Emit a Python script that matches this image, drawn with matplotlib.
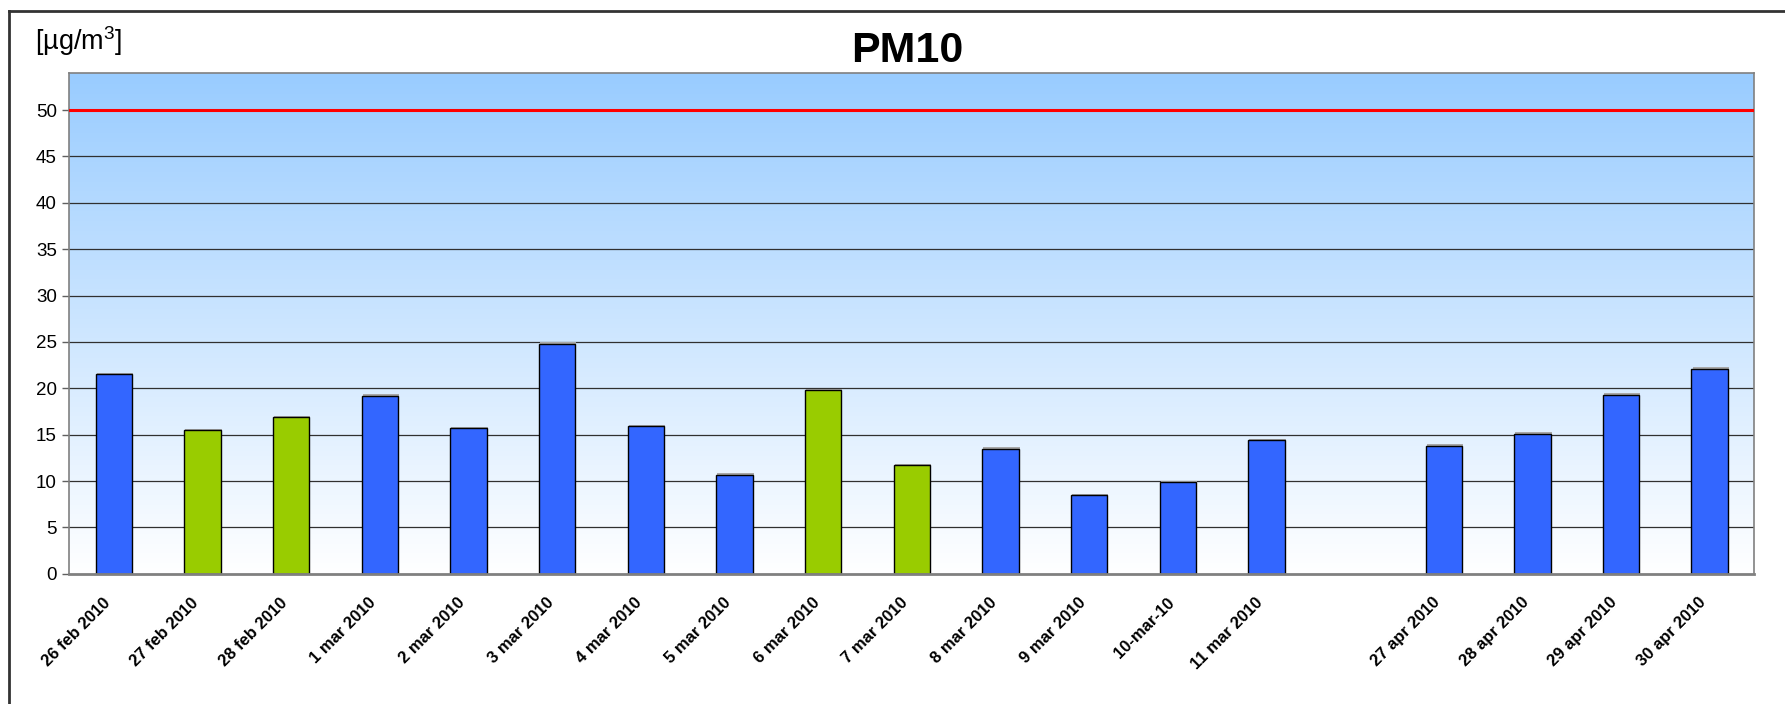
import numpy as np
import matplotlib
matplotlib.use("Agg")
import matplotlib.pyplot as plt
import matplotlib.transforms as mtrans
from matplotlib.lines import Line2D

plt.rcParams['font.family'] = ['Liberation Sans', 'DejaVu Sans']
plt.rcParams['mathtext.default'] = 'regular'

# data (empty slot = gap between 11 mar and 27 apr)
dates = ['26 feb 2010', '27 feb 2010', '28 feb 2010', '1 mar 2010', '2 mar 2010',
         '3 mar 2010', '4 mar 2010', '5 mar 2010', '6 mar 2010', '7 mar 2010',
         '8 mar 2010', '9 mar 2010', '10-mar-10', '11 mar 2010', '',
         '27 apr 2010', '28 apr 2010', '29 apr 2010', '30 apr 2010']
pm10 = [21.5, 15.5, 16.9, 19.2, 15.7, 24.8, 15.9, 10.7, 19.8, 11.7,
        13.5, 8.5, 9.9, 14.4, np.nan, 13.8, 15.1, 19.3, 22.1]
weekend = [False, True, True, False, False, False, False, False, True, True,
           False, False, False, False, False, False, False, False, False]
limit = 50

BLUE = '#3366FF'
GREEN = '#99CC00'

fig = plt.figure(figsize=(17.85, 7.04), dpi=100)
ax = fig.add_axes([69.4/1785, 1-573.8/704, (1754-69.4)/1785, (573.8-72.9)/704])

# background gradient, light blue at top fading to white
grad = np.linspace(0, 1, 256).reshape(-1, 1)
top = np.array([153, 204, 255]) / 255
bot = np.array([255, 255, 255]) / 255
img = bot + (top - bot) * grad[..., None]
ax.imshow(img, extent=[0, 1, 0, 1], transform=ax.transAxes, aspect='auto',
          origin='lower', zorder=0)

x = np.arange(len(dates))
vals = np.array(pm10, dtype=float)
ok = ~np.isnan(vals)
cols = [GREEN if w else BLUE for w in weekend]

# little shadow on top of each bar
ax.bar(x[ok] + 0.012, vals[ok] + 0.15, width=0.41, color='#A8A8A8', zorder=2, linewidth=0)
ax.bar(x[ok], vals[ok], width=0.41, color=[c for c, k in zip(cols, ok) if k],
       edgecolor='black', linewidth=1.0, zorder=3)

for v in range(5, 50, 5):
    ax.axhline(v, color='#303030', linewidth=0.9, zorder=1)
ax.axhline(limit, color='#FF0000', linewidth=2.2, zorder=4)

ax.set_xlim(-0.5, len(dates) - 0.5)
ax.set_ylim(0, 54)
ax.set_yticks(np.arange(0, 51, 5))
ax.set_xticks(x)
ax.set_xticklabels(dates, rotation=45, ha='right', va='center',
                   rotation_mode='anchor', fontsize=12, fontweight='bold')
ax.tick_params(axis='x', length=0, pad=19)
ax.tick_params(axis='y', labelsize=13.5, length=5, width=1, color='#606060', pad=4)
shift = mtrans.ScaledTranslation(-6/100, 0, fig.dpi_scale_trans)
for lab in ax.get_xticklabels():
    lab.set_transform(lab.get_transform() + shift)

for s in ax.spines.values():
    s.set_color('#808080')
    s.set_linewidth(1.2)
ax.spines['bottom'].set_linewidth(2)
ax.spines['bottom'].set_zorder(5)

fig.text(907/1785, 1-51/704, 'PM10', ha='center', va='center',
         fontsize=31, fontweight='bold')
fig.text(35/1785, 1-41/704, '[µg/m$^3$]', ha='left', va='center', fontsize=19.5)

# outer frame (left and top edges visible)
fig.add_artist(Line2D([9/1785, 9/1785], [0, 1-11/704], color='#333333',
                      linewidth=2, transform=fig.transFigure))
fig.add_artist(Line2D([9/1785, 1], [1-11/704, 1-11/704], color='#333333',
                      linewidth=2, transform=fig.transFigure))

fig.savefig('out.png', dpi=100)
